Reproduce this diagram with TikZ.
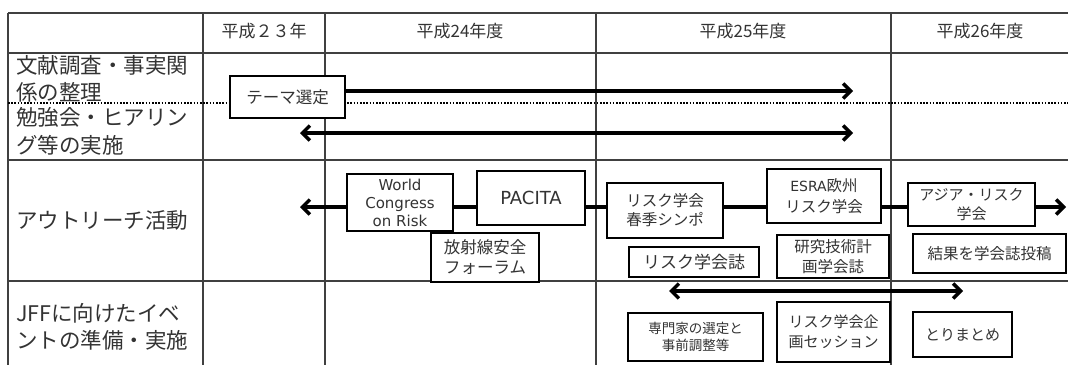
\documentclass[tikz,border=0pt]{standalone}
\usepackage{fontspec}
\setmainfont{Noto Sans CJK JP}
\newfontfamily\lat{DejaVu Sans}
\usetikzlibrary{arrows.meta}
\newcommand\fz[2]{\fontsize{#1}{#2}\selectfont}
\tikzset{
  gridline/.style={line width=1.3pt, draw=black!75},
  box/.style={draw=black, line width=2.3pt, fill=white, inner sep=0pt, align=center, text=black!80},
  conn/.style={line width=3.4pt, draw=black},
  barb/.tip={Straight Barb[length=7.5pt,width=15pt]},
  lbl/.style={anchor=west, align=left, inner sep=0pt, text=black!80},
  hdr/.style={inner sep=0pt, text=black!80, font=\fz{17}{20}},
}
\begin{document}
\begin{tikzpicture}[x=1pt,y=-1pt]
\useasboundingbox (0,0) rectangle (1068,365);
% table grid
\draw[gridline] (8,13) -- (1068,13);
\draw[gridline] (8,53) -- (1068,53);
\draw[gridline] (8,160) -- (1068,160);
\draw[gridline] (8,281) -- (1068,281);
\foreach \x in {8,203,325,596,891} \draw[gridline] (\x,13) -- (\x,365);
\draw[line width=2.4pt, dash pattern=on 1.6pt off 1.6pt] (8,103) -- (1068,103);
% headers
\node[hdr] (h23) at (264,31) {平成２３年};
\node[hdr] (h24) at (460,31) {平成24年度};
\node[hdr] (h25) at (743,31) {平成25年度};
\node[hdr] (h26) at (980,31) {平成26年度};
% row labels
\node[lbl, font=\fz{21.5}{27}] (r1) at (16,78.5) {文献調査・事実関\\係の整理};
\node[lbl, font=\fz{21.5}{28}] (r2) at (16,131) {勉強会・ヒアリン\\グ等の実施};
\node[lbl, font=\fz{21.5}{27}] (r3) at (16,220) {アウトリーチ活動};
\node[lbl, font=\fz{21.5}{27}] (r4) at (16,326.5) {JFFに向けたイベ\\ントの準備・実施};
% boxes
\node[box, minimum width=115pt, minimum height=42pt, font=\fz{16.5}{20}] (theme) at (287.5,97) {テーマ選定};
\node[box, minimum width=106pt, minimum height=57pt, font=\lat\fz{15}{18}] (world) at (400,202.5) {World\\Congress\\on Risk};
\node[box, minimum width=108pt, minimum height=54pt, font=\lat\fz{18}{21}] (pacita) at (531,198) {PACITA};
\node[box, minimum width=108pt, minimum height=49pt, font=\fz{16.5}{20}] (hosha) at (485,257.5) {放射線安全\\フォーラム};
\node[box, minimum width=116pt, minimum height=55pt, font=\fz{15.5}{19}] (shunki) at (665,210.5) {リスク学会\\春季シンポ};
\node[box, minimum width=114pt, minimum height=54pt, font=\fz{15.5}{21}] (esra) at (824,196) {{\lat\fz{14}{21}ESRA}欧州\\リスク学会};
\node[box, minimum width=127pt, minimum height=43pt, font=\fz{15}{19}] (asia) at (971.5,204.5) {アジア・リスク\\学会};
\node[box, minimum width=130pt, minimum height=30pt, font=\fz{17}{20}] (gakkai) at (694,262) {リスク学会誌};
\node[box, minimum width=112pt, minimum height=43pt, font=\fz{15.5}{20}] (kenkyu) at (833,256.5) {研究技術計\\画学会誌};
\node[box, minimum width=153pt, minimum height=39pt, font=\fz{15.5}{20}] (kekka) at (989.5,253.5) {結果を学会誌投稿};
\node[box, minimum width=135pt, minimum height=48pt, font=\fz{13.5}{17.5}] (senmon) at (695.5,337) {専門家の選定と\\事前調整等};
\node[box, minimum width=113pt, minimum height=60pt, font=\fz{15}{20}] (session) at (833.5,332) {リスク学会企\\画セッション};
\node[box, minimum width=99pt, minimum height=45pt, font=\fz{15}{20}] (torimatome) at (962.5,334.5) {とりまとめ};
% connectors
\coordinate (A1) at (853,91);
\draw[conn, -barb] (theme.east |- A1) -- (A1);
\coordinate (A2l) at (300,133);
\coordinate (A2r) at (853,133);
\draw[conn, barb-barb] (A2l) -- (A2r);
\coordinate (L3) at (300,207);
\coordinate (R3) at (1066,207);
\draw[conn, -barb] (world.west |- L3) -- (L3);
\draw[conn] (world.east |- L3) -- (pacita.west |- L3);
\draw[conn] (pacita.east |- L3) -- (shunki.west |- L3);
\draw[conn] (shunki.east |- L3) -- (esra.west |- L3);
\draw[conn] (esra.east |- L3) -- (asia.west |- L3);
\draw[conn, -barb] (asia.east |- L3) -- (R3);
\coordinate (A4l) at (669,291);
\coordinate (A4r) at (963,291);
\draw[conn, barb-barb] (A4l) -- (A4r);
\end{tikzpicture}
\end{document}
